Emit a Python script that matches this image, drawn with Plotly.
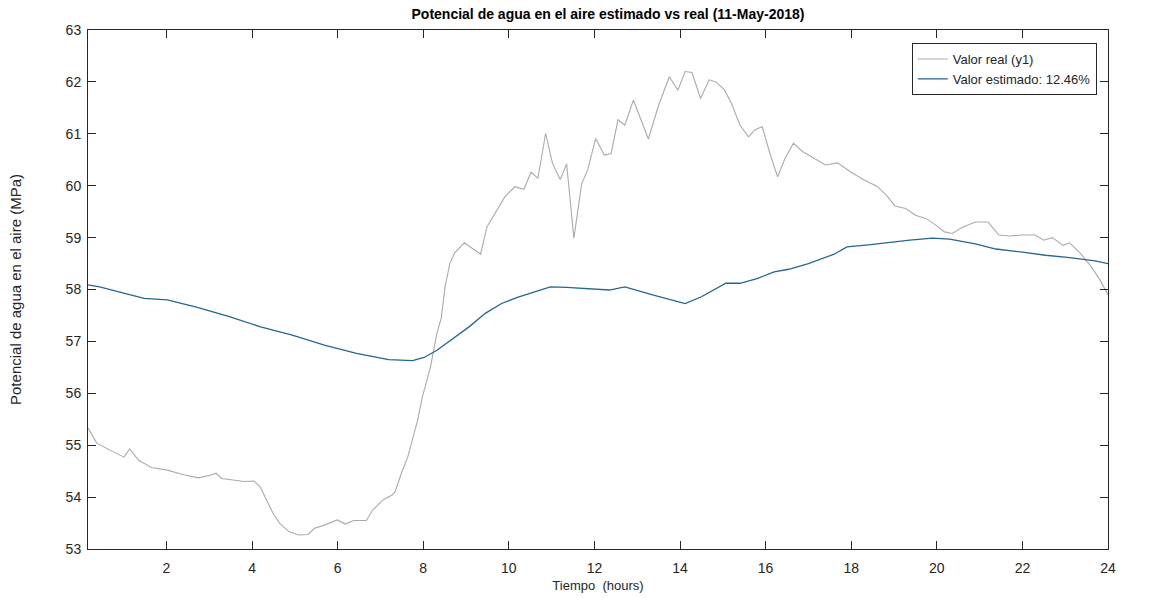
import plotly.graph_objects as go

# ---- data ----
real_hours = [0.17, 0.37, 0.67, 1.01, 1.14, 1.35, 1.65, 2.02, 2.4, 2.75, 3.03, 3.16, 3.29, 3.6, 3.82,
              4.04, 4.19, 4.34, 4.49, 4.64, 4.87, 5.09, 5.31, 5.46, 5.69, 5.99, 6.18, 6.37, 6.67, 6.82,
              7.05, 7.27, 7.34, 7.49, 7.64, 7.87, 7.98, 8.17, 8.32, 8.42, 8.51, 8.62, 8.73, 8.96, 9.34,
              9.49, 9.68, 9.91, 10.14, 10.35, 10.52, 10.68, 10.86, 11.02, 11.2, 11.35, 11.52, 11.7, 11.84,
              12.03, 12.23, 12.39, 12.55, 12.71, 12.91, 13.26, 13.5, 13.75, 13.95, 14.12, 14.28, 14.48,
              14.68, 14.84, 15.04, 15.2, 15.4, 15.6, 15.74, 15.92, 16.1, 16.28, 16.45, 16.65, 16.86,
              17.15, 17.4, 17.68, 17.98, 18.3, 18.6, 18.82, 19.02, 19.27, 19.5, 19.74, 19.98, 20.18,
              20.36, 20.6, 20.9, 21.2, 21.45, 21.7, 22.0, 22.3, 22.5, 22.7, 22.95, 23.1, 23.35, 23.6,
              23.8, 24.0]
real_values = [55.33, 55.04, 54.91, 54.77, 54.93, 54.71, 54.57, 54.52, 54.43, 54.37, 54.42, 54.46, 54.36,
               54.33, 54.3, 54.31, 54.2, 53.94, 53.69, 53.5, 53.33, 53.27, 53.28, 53.4, 53.46, 53.56,
               53.48, 53.55, 53.55, 53.75, 53.94, 54.04, 54.1, 54.46, 54.78, 55.49, 55.93, 56.51, 57.16,
               57.45, 58.05, 58.5, 58.7, 58.9, 58.68, 59.21, 59.47, 59.79, 59.98, 59.93, 60.26, 60.14,
               61.01, 60.43, 60.12, 60.42, 58.99, 60.03, 60.3, 60.91, 60.59, 60.62, 61.27, 61.17, 61.65,
               60.9, 61.55, 62.1, 61.84, 62.2, 62.18, 61.68, 62.04, 62.0, 61.84, 61.59, 61.17, 60.94,
               61.07, 61.14, 60.62, 60.17, 60.52, 60.82, 60.66, 60.52, 60.4, 60.44, 60.27, 60.11, 59.99,
               59.82, 59.61, 59.56, 59.43, 59.37, 59.24, 59.11, 59.08, 59.2, 59.3, 59.3, 59.05, 59.03,
               59.05, 59.05, 58.95, 59.0, 58.85, 58.9, 58.7, 58.45, 58.2, 57.9]

est_hours = [0.17, 0.44, 1.0, 1.48, 2.02, 2.7, 3.45, 4.2, 4.94, 5.69, 6.44, 7.19, 7.75, 8.02, 8.32, 8.7,
             9.07, 9.45, 9.83, 10.2, 10.6, 10.97, 11.35, 11.73, 12.35, 12.71, 13.38, 14.12, 14.5, 15.07,
             15.4, 15.8, 16.2, 16.54, 17.0, 17.6, 17.9, 18.4, 18.9, 19.37, 19.9, 20.3, 20.9, 21.38,
             22.0, 22.54, 23.05, 23.7, 24.0]
est_values = [58.09, 58.05, 57.93, 57.83, 57.8, 57.66, 57.48, 57.28, 57.12, 56.93, 56.77, 56.65, 56.63,
              56.69, 56.83, 57.06, 57.28, 57.54, 57.73, 57.85, 57.95, 58.05, 58.04, 58.02, 57.99, 58.05,
              57.89, 57.73, 57.86, 58.12, 58.12, 58.21, 58.34, 58.39, 58.5, 58.68, 58.82, 58.86, 58.91,
              58.95, 58.99, 58.97, 58.88, 58.78, 58.72, 58.66, 58.62, 58.55, 58.5]

x_ticks = [2, 4, 6, 8, 10, 12, 14, 16, 18, 20, 22, 24]
y_ticks = [53, 54, 55, 56, 57, 58, 59, 60, 61, 62, 63]

title_text = "Potencial de agua en el aire estimado vs real (11-May-2018)"
x_title = "Tiempo  (hours)"
y_title = "Potencial de agua en el aire (MPa)"
name_real = "Valor real (y1)"
name_est = "Valor estimado: 12.46%"

FONT = "Liberation Sans, Arial, Helvetica, sans-serif"
AX = "#262626"

fig = go.Figure()
fig.add_trace(go.Scatter(x=real_hours, y=real_values, mode="lines", name=name_real,
                         line=dict(color="#ababab", width=1.1)))
fig.add_trace(go.Scatter(x=est_hours, y=est_values, mode="lines", name=name_est,
                         line=dict(color="#23688f", width=1.3)))

axis_common = dict(showline=True, linecolor=AX, linewidth=1, mirror="ticks", ticks="inside",
                   ticklen=8, tickwidth=1, tickcolor=AX, showgrid=False, zeroline=False,
                   automargin=False, tickfont=dict(family=FONT, size=14, color=AX))

fig.update_layout(
    width=1162, height=598,
    margin=dict(l=88, r=54, t=30, b=49, autoexpand=False),
    paper_bgcolor="white", plot_bgcolor="white",
    font=dict(family=FONT, color=AX),
    title=dict(text="<b>" + title_text + "</b>", x=608 / 1162, xref="container", xanchor="center",
               y=1 - 14 / 598, yref="container", yanchor="middle",
               font=dict(family=FONT, size=14, color="#000000")),
    xaxis=dict(range=[0.1667, 24], tickmode="array", tickvals=x_ticks, ticklabelstandoff=6,
               title=dict(text=x_title, font=dict(family=FONT, size=13, color=AX), standoff=6),
               **axis_common),
    yaxis=dict(range=[53, 63], tickmode="array", tickvals=y_ticks, ticklabelstandoff=3,
               title=dict(text=y_title, font=dict(family=FONT, size=15, color=AX), standoff=40),
               **axis_common),
    legend=dict(x=0.989, xanchor="right", y=0.975, yanchor="top", bgcolor="white",
                bordercolor=AX, borderwidth=1, font=dict(family=FONT, size=13, color=AX),
                tracegroupgap=0),
    showlegend=True,
)

fig.write_html("out.html")
